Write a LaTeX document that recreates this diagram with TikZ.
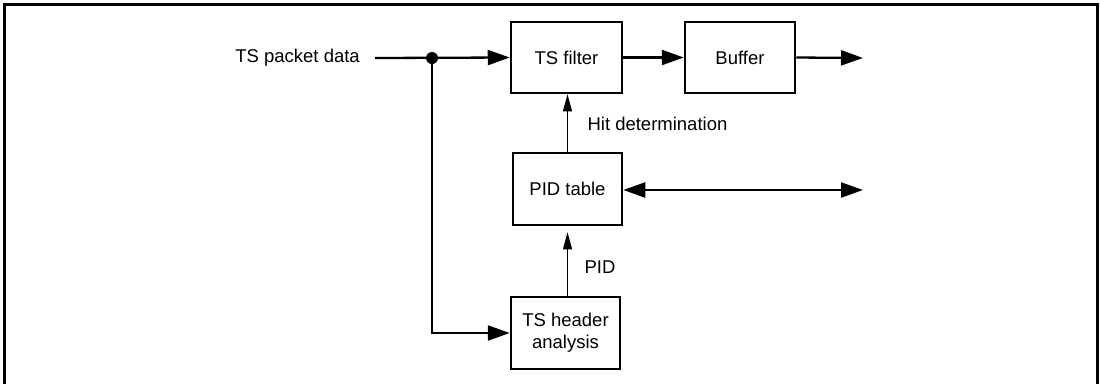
\documentclass[tikz,border=0pt]{standalone}
\usepackage{fontspec}
\setmainfont{Liberation Sans}
\usepackage{tikz}
\usetikzlibrary{arrows.meta}

\begin{document}
\begin{tikzpicture}[x=1pt,y=1pt,>={Triangle[length=22pt,width=15pt]},
  font=\fontsize{18.5}{22}\selectfont,
  blk/.style={draw,line width=2.5pt,inner sep=0pt,align=center},
  wire/.style={line width=2.3pt},
  thin/.style={line width=1.2pt,>={Triangle[length=17pt,width=9pt]}}]
  \useasboundingbox (0,0) rectangle (1100,-384);
  \draw[line width=3pt] (4,-384) -- (4,-4) -- (1097,-4) -- (1097,-384);
  \node[inner sep=0pt,anchor=east] (src) at (360,-58) {TS packet data};
  \node[blk,minimum width=111pt,minimum height=71pt] (filter) at (566.5,-57.5) {TS filter};
  \node[blk,minimum width=110pt,minimum height=71pt] (buffer) at (740,-57.5) {Buffer};
  \node[blk,minimum width=109pt,minimum height=72pt] (pidtab) at (567.5,-189) {PID table};
  \node[blk,minimum width=109pt,minimum height=72pt] (hdr) at (565.5,-333) {TS header\\analysis};
  \coordinate (split) at (432,-58);
  \coordinate (out1) at (863,-58);
  \coordinate (out2) at (863,-190);
  \draw[wire,->] ([xshift=15pt]src.east) -- (filter.west);
  \fill (split) circle (6pt);
  \draw[wire,->] (split) |- (hdr.west);
  \draw[wire,->] (filter.east) -- (buffer.west);
  \draw[wire,->] (buffer.east) -- (out1);
  \draw[wire,<->] (pidtab.east |- out2) -- (out2);
  \draw[thin,->] (pidtab.north) -- (pidtab.north |- filter.south);
  \node[anchor=west] (hitlbl) at (584,-124) {Hit determination};
  \draw[thin,->,shorten >=6pt] (pidtab.south |- hdr.north) -- (pidtab.south);
  \node[anchor=west] (pidlbl) at (581,-267) {PID};
\end{tikzpicture}
\end{document}
